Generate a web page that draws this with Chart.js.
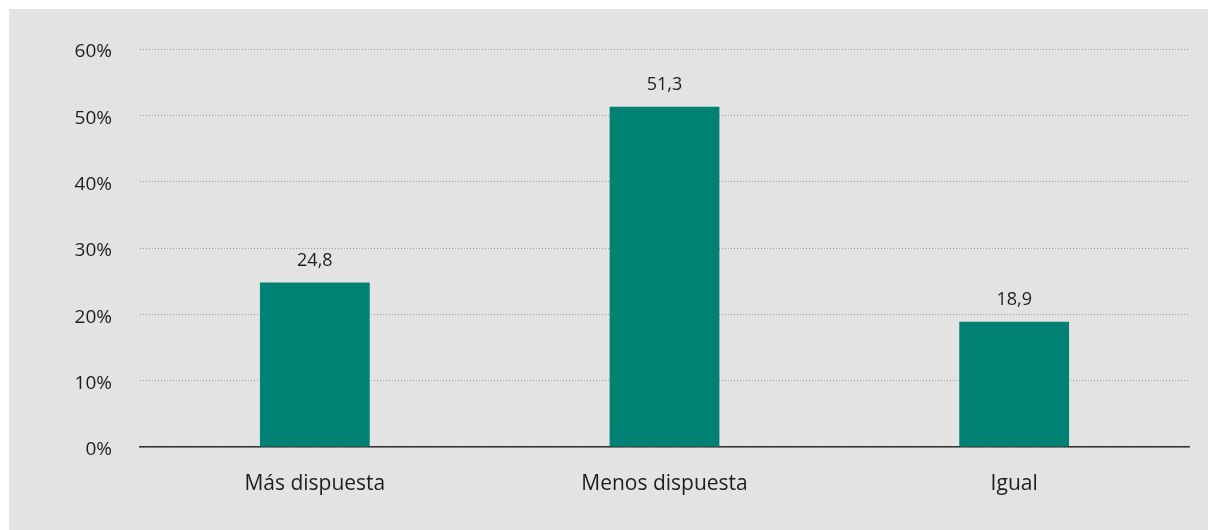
<!DOCTYPE html>
<html>
<head>
<meta charset="utf-8">
<script src="https://cdn.jsdelivr.net/npm/chart.js@4/dist/chart.umd.min.js"></script>
<style>
    html, body { margin: 0; padding: 0; background: #ffffff; }
    #wrap {
        position: absolute;
        left: 9px;
        top: 9px;
        width: 1199px;
        height: 521px;
        background: #e3e3e3;
    }
</style>
</head>
<body>
<div id="wrap"><canvas id="chart" width="1199" height="521"></canvas></div>
<script>
// Data
const categories = ['Más dispuesta', 'Menos dispuesta', 'Igual'];
const values = [24.8, 51.3, 18.9];
const valueLabels = ['24,8', '51,3', '18,9'];

const barColor = '#008174';
const textColor = '#1e1e1e';
const fontFamily = '"Open Sans", Lato, sans-serif';

// Value labels above the bars
const barLabels = {
    id: 'barLabels',
    afterDatasetsDraw(chart) {
        const ctx = chart.ctx;
        const meta = chart.getDatasetMeta(0);
        ctx.save();
        ctx.font = '18px ' + fontFamily;
        ctx.fillStyle = textColor;
        ctx.textAlign = 'center';
        ctx.textBaseline = 'middle';
        meta.data.forEach((bar, i) => {
            ctx.fillText(valueLabels[i], bar.x, bar.y - 22);
        });
        ctx.restore();
    }
};

new Chart(document.getElementById('chart'), {
    type: 'bar',
    data: {
        labels: categories,
        datasets: [{
            data: values,
            backgroundColor: barColor,
            borderWidth: 0,
            barPercentage: 0.314,
            categoryPercentage: 1
        }]
    },
    options: {
        responsive: false,
        animation: false,
        layout: {
            padding: { top: 40, right: 19, bottom: 0, left: 0 }
        },
        plugins: {
            legend: { display: false },
            tooltip: { enabled: false }
        },
        scales: {
            x: {
                grid: { display: false, drawTicks: false },
                border: { display: true, color: '#333333', width: 1.5 },
                ticks: {
                    color: textColor,
                    font: { family: fontFamily, size: 21 },
                    padding: 24
                },
                afterFit: s => { s.height = 83; }
            },
            y: {
                min: 0,
                max: 60,
                grid: {
                    color: '#9a9a9a',
                    lineWidth: 1,
                    drawTicks: false
                },
                border: { display: false, dash: [1, 2] },
                ticks: {
                    stepSize: 10,
                    color: textColor,
                    font: { family: fontFamily, size: 19 },
                    padding: 28,
                    labelOffset: 3,
                    callback: v => v + '%'
                },
                afterFit: s => { s.width = 131; }
            }
        }
    },
    plugins: [barLabels]
});
</script>
</body>
</html>
